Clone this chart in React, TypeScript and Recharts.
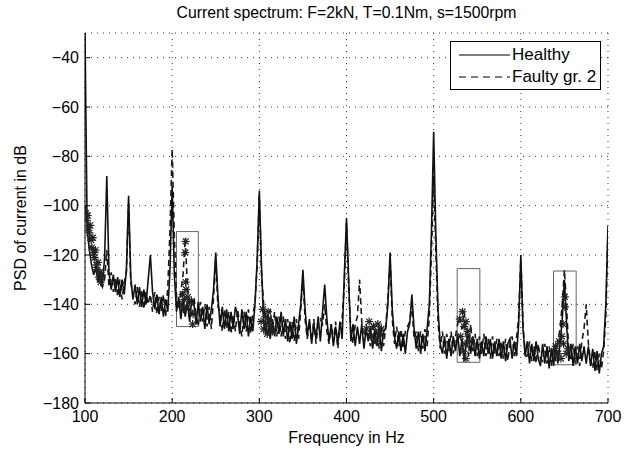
import {
  CartesianGrid,
  ComposedChart,
  Legend,
  Line,
  ReferenceArea,
  Scatter,
  XAxis,
  YAxis,
} from 'recharts';

// spectrum sampled every 2.5 Hz from 100 Hz to 700 Hz (one row = 25 Hz)
const FREQ_START = 100;
const FREQ_STEP = 2.5;

const healthyDb = [
  -30, -110, -118, -124, -128, -125, -131, -127, -132, -121,
  -88, -127, -134, -128, -135, -129, -137, -130, -136, -126,
  -96, -129, -138, -132, -140, -133, -141, -134, -140, -130,
  -120, -135, -142, -136, -144, -137, -145, -138, -143, -126,
  -92, -128, -143, -137, -146, -138, -145, -139, -147, -138,
  -140, -148, -139, -147, -141, -150, -140, -148, -142, -134,
  -119, -137, -149, -141, -150, -142, -151, -143, -150, -141,
  -144, -152, -142, -150, -143, -153, -145, -151, -140, -122,
  -94, -125, -147, -152, -144, -154, -146, -153, -145, -152,
  -143, -153, -146, -155, -147, -154, -145, -156, -148, -140,
  -126, -142, -153, -146, -156, -148, -154, -145, -155, -143,
  -132, -146, -155, -148, -157, -149, -156, -147, -154, -128,
  -105, -130, -155, -148, -157, -149, -156, -148, -158, -150,
  -155, -149, -158, -150, -157, -149, -159, -151, -150, -140,
  -119, -142, -153, -158, -151, -159, -152, -160, -151, -148,
  -136, -150, -158, -151, -160, -152, -159, -150, -140, -110,
  -70, -112, -142, -156, -160, -153, -162, -154, -161, -153,
  -159, -152, -161, -154, -163, -155, -152, -160, -153, -161,
  -154, -162, -155, -161, -153, -160, -154, -162, -155, -161,
  -154, -162, -155, -163, -156, -154, -162, -155, -161, -148,
  -120, -150, -161, -155, -164, -156, -163, -155, -162, -165,
  -156, -164, -157, -166, -158, -165, -157, -164, -156, -146,
  -130, -148, -163, -156, -165, -157, -164, -156, -163, -157,
  -164, -157, -165, -158, -167, -159, -168, -160, -157, -140,
  -108,
];

const faultyDb = [
  -100, -106, -112, -117, -121, -125, -128, -131, -133, -130,
  -118, -133, -127, -135, -129, -137, -130, -138, -131, -127,
  -99, -131, -136, -140, -133, -141, -134, -142, -135, -140,
  -136, -143, -135, -144, -137, -143, -136, -145, -133, -110,
  -77, -112, -137, -142, -135, -128, -113, -133, -142, -145,
  -137, -145, -149, -139, -147, -140, -149, -141, -150, -137,
  -122, -141, -143, -151, -142, -150, -143, -152, -144, -151,
  -142, -148, -153, -143, -151, -142, -152, -144, -140, -124,
  -96, -128, -140, -149, -153, -142, -151, -143, -153, -145,
  -153, -145, -154, -146, -156, -147, -155, -146, -154, -142,
  -130, -146, -154, -147, -155, -146, -156, -148, -146, -148,
  -140, -151, -156, -148, -155, -147, -158, -149, -146, -132,
  -107, -133, -151, -156, -148, -145, -130, -147, -155, -148,
  -153, -157, -149, -156, -150, -158, -150, -157, -149, -138,
  -122, -146, -156, -149, -157, -150, -158, -151, -149, -147,
  -140, -154, -151, -159, -151, -158, -150, -157, -145, -118,
  -88, -118, -147, -158, -151, -160, -152, -159, -151, -160,
  -153, -148, -145, -150, -143, -154, -161, -148, -159, -152,
  -161, -153, -160, -152, -161, -154, -162, -153, -160, -154,
  -161, -155, -162, -154, -163, -156, -153, -161, -154, -145,
  -122, -148, -160, -162, -155, -163, -157, -164, -156, -162,
  -163, -156, -164, -157, -165, -157, -163, -155, -150, -140,
  -126, -141, -159, -163, -156, -164, -157, -165, -155, -150,
  -140, -156, -163, -166, -159, -167, -160, -166, -159, -145,
  -110,
];

// asterisk markers on the faulty spectrum [Hz, dB]
const markFreq = [
  101, 102, 103, 104, 105, 106, 107, 108, 109, 110, 111, 112, 113, 114, 115, 116, 117, 118, 119,
  215.5, 215, 215.5, 216, 212, 214, 218, 210, 217, 220, 213, 224, 223.5,
  302, 304, 305, 307, 309, 311, 313, 310, 315,
  423, 426, 428, 431, 434, 436, 438, 440,
  530, 533, 535, 537, 531, 536, 539, 534, 537, 541,
  650.5, 650.5, 648.5, 647, 640, 643, 646, 638, 649, 652, 644, 654,
];
const markDb = [
  -103, -106, -104, -109, -111, -108, -114, -117, -113, -119, -121, -118, -124, -126, -123, -129, -127, -131, -128,
  -114.5, -119, -131, -134, -136, -138, -137, -140, -141, -139, -142, -144, -148,
  -147, -142, -150, -145, -152, -147, -149, -143, -151,
  -150, -147, -153, -149, -155, -148, -152, -150,
  -146, -143, -149, -147, -153, -156, -151, -159, -162, -155,
  -137, -141, -148, -153, -157, -160, -162, -159, -156, -160, -155, -158,
];

// highlighted regions
const boxF1 = [205, 527, 637.5];
const boxF2 = [230, 553, 663.5];
const boxLow = [-149, -163.5, -164.5];
const boxHigh = [-110.5, -125.5, -126.5];

const xTicks = [100, 200, 300, 400, 500, 600, 700];
const yTicks = [-180, -160, -140, -120, -100, -80, -60, -40];

const rows = healthyDb.map((h, i) => ({
  freq: FREQ_START + i * FREQ_STEP,
  healthy: h,
  faulty: faultyDb[i],
}));
const marks = markFreq.map((f, i) => ({ freq: f, mark: markDb[i] }));

const FONT = '"Liberation Sans", Arial, Helvetica, sans-serif';
const minus = (v: number) => (v < 0 ? '\u2212' + Math.abs(v) : String(v));

function Asterisk(props: any) {
  const { cx, cy } = props;
  if (cx == null || cy == null) return null;
  const r = 4;
  const d = r * 0.75;
  return (
    <g stroke="#222" strokeWidth={1.2}>
      <line x1={cx - r} y1={cy} x2={cx + r} y2={cy} />
      <line x1={cx} y1={cy - r} x2={cx} y2={cy + r} />
      <line x1={cx - d} y1={cy - d} x2={cx + d} y2={cy + d} />
      <line x1={cx - d} y1={cy + d} x2={cx + d} y2={cy - d} />
    </g>
  );
}

function LegendBox() {
  return (
    <div
      style={{
        border: '1px solid #000',
        background: '#fff',
        width: 149,
        height: 47,
        fontFamily: FONT,
        fontSize: 17,
        color: '#000',
      }}
    >
      {[
        { name: 'Healthy', dash: undefined },
        { name: 'Faulty gr. 2', dash: '7 5' },
      ].map((it, i) => (
        <div key={it.name} style={{ display: 'flex', alignItems: 'center', height: 22, marginTop: i === 0 ? 2 : 0 }}>
          <svg width={52} height={10} style={{ marginLeft: 8, flex: 'none' }}>
            <line x1={0} y1={5} x2={51} y2={5} stroke="#000" strokeWidth={1.2} strokeDasharray={it.dash} />
          </svg>
          <span style={{ marginLeft: 1, whiteSpace: 'nowrap' }}>{it.name}</span>
        </div>
      ))}
    </div>
  );
}

export default function App() {
  return (
    <div style={{ position: 'absolute', left: 0, top: 0, width: 636, height: 451, background: '#fff' }}>
      <ComposedChart
        width={636}
        height={451}
        data={rows}
        margin={{ top: 33, right: 28, left: 25, bottom: 0 }}
        style={{ fontFamily: FONT }}
      >
        <CartesianGrid stroke="#333" strokeDasharray="1 5" />
        <XAxis
          dataKey="freq"
          type="number"
          domain={[100, 700]}
          ticks={xTicks}
          allowDataOverflow
          height={48}
          stroke="#000"
          tickSize={-5}
          tickMargin={13}
          tick={{ fill: '#000', fontSize: 16 }}
          label={{
            content: (p: any) => (
              <text x={p.viewBox.x + p.viewBox.width / 2} y={443} textAnchor="middle" fontSize={16} fill="#000">
                Frequency in Hz
              </text>
            ),
          }}
        />
        <XAxis
          xAxisId="top"
          orientation="top"
          type="number"
          domain={[100, 700]}
          ticks={xTicks}
          height={0}
          stroke="#000"
          tickSize={-5}
          tickFormatter={() => ''}
        />
        <YAxis
          type="number"
          domain={[-180, -30]}
          ticks={yTicks}
          allowDataOverflow
          width={60}
          stroke="#000"
          tickSize={-5}
          tickMargin={11}
          tickFormatter={minus}
          tick={{ fill: '#000', fontSize: 16 }}
          label={{
            content: (p: any) => {
              const cy = p.viewBox.y + p.viewBox.height / 2;
              return (
                <g>
                  <text x={22} y={cy} transform={`rotate(-90 22 ${cy})`} textAnchor="middle" dominantBaseline="middle" fontSize={16} fill="#000">
                    PSD of current in dB
                  </text>
                  <text x={346.5} y={18} textAnchor="middle" fontSize={15.8} fill="#000">
                    Current spectrum: F=2kN, T=0.1Nm, s=1500rpm
                  </text>
                </g>
              );
            },
          }}
        />
        <YAxis
          yAxisId="right"
          orientation="right"
          type="number"
          domain={[-180, -30]}
          ticks={yTicks}
          width={0}
          stroke="#000"
          tickSize={-5}
          tickFormatter={() => ''}
        />
        {boxF1.map((f1, i) => (
          <ReferenceArea
            key={f1}
            x1={f1}
            x2={boxF2[i]}
            y1={boxLow[i]}
            y2={boxHigh[i]}
            fill="none"
            stroke="#666"
            strokeWidth={1}
            ifOverflow="visible"
          />
        ))}
        <Line
          type="linear"
          dataKey="faulty"
          name="Faulty gr. 2"
          stroke="#1a1a1a"
          strokeWidth={1.6}
          strokeDasharray="6 4"
          dot={false}
          isAnimationActive={false}
        />
        <Line
          type="linear"
          dataKey="healthy"
          name="Healthy"
          stroke="#111"
          strokeWidth={1.6}
          dot={false}
          isAnimationActive={false}
        />
        <Scatter data={marks} dataKey="mark" shape={<Asterisk />} isAnimationActive={false} legendType="none" />
        <Legend
          layout="vertical"
          align="center"
          verticalAlign="middle"
          content={() => <LegendBox />}
          wrapperStyle={{ left: 450, top: 41, width: 151 }}
        />
      </ComposedChart>
    </div>
  );
}
